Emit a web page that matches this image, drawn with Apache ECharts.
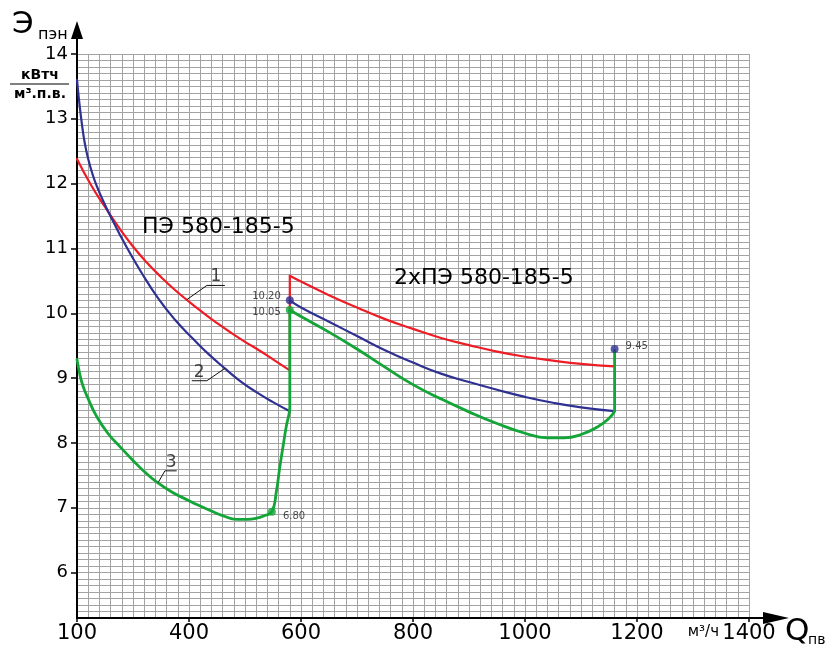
<!DOCTYPE html>
<html><head><meta charset="utf-8">
<script src="https://cdn.jsdelivr.net/npm/echarts@6/dist/echarts.min.js"></script>
<style>html,body{margin:0;padding:0;background:#fff}#c{width:834px;height:650px}</style>
</head><body><div id="c"></div>
<script>
// ---- data (x in axis units, y in кВтч/м³) ----
const xTickValues = [200, 400, 600, 800, 1000, 1200, 1400];
const xTickLabels = ['100', '400', '600', '800', '1000', '1200', '1400'];
const yTickValues = [6, 7, 8, 9, 10, 11, 12, 13, 14];

// curve 1 (red)
const red1 = [[200,12.38],[225,11.98],[250,11.64],[275,11.32],[300,11.03],[325,10.78],[350,10.56],[375,10.36],[400,10.18],[425,10.01],[450,9.85],[475,9.70],[500,9.56],[525,9.43],[550,9.29],[580,9.12]];
const red2 = [[580,10.58],[600,10.49],[650,10.28],[700,10.09],[750,9.91],[800,9.76],[850,9.62],[900,9.51],[950,9.41],[1000,9.33],[1050,9.27],[1100,9.22],[1160,9.18]];
// curve 2 (blue)
const blue1 = [[200,13.60],[205,13.18],[210,12.84],[214,12.62],[220,12.38],[228,12.14],[235,11.97],[248,11.71],[262,11.46],[275,11.24],[290,11.00],[315,10.63],[345,10.23],[375,9.90],[408,9.60],[435,9.37],[464,9.15],[492,8.95],[521,8.78],[550,8.63],[580,8.49]];
const blue2 = [[580,10.20],[600,10.09],[650,9.87],[700,9.65],[750,9.43],[800,9.24],[850,9.07],[900,8.94],[950,8.82],[1000,8.71],[1050,8.62],[1100,8.55],[1160,8.49]];
// curve 3 (green)
const green1 = [[200,9.29],[205,9.06],[211,8.87],[220,8.68],[235,8.41],[255,8.15],[277,7.94],[300,7.73],[320,7.56],[342,7.40],[370,7.24],[400,7.11],[414,7.05],[440,6.95],[460,6.88],[485,6.82],[505,6.82],[521,6.84],[535,6.88],[548,6.94],[556,7.25],[562,7.62],[568,7.95],[574,8.27],[578,8.42],[580,8.52]];
const green2 = [[580,10.05],[600,9.95],[650,9.71],[700,9.45],[750,9.17],[800,8.90],[850,8.68],[900,8.48],[950,8.30],[1000,8.15],[1040,8.08],[1070,8.08],[1100,8.13],[1130,8.25],[1150,8.38],[1160,8.49]];

// marked points
const bluePoints = [[580,10.20,'10.20','left'],[1160,9.45,'9.45','right']];
const greenPoints = [[580,10.05,'10.05','left'],[548,6.94,'6.80','right']];

// curve numbers with leader lines
const leader1 = [[396,10.21],[432,10.43],[464,10.43]];
const leader2 = [[464,9.15],[432,8.96],[405,8.96]];
const leader3 = [[345,7.39],[357,7.57],[378,7.57]];
const curveNumbers = [[448,10.43,'1'],[418,8.96,'2'],[368,7.57,'3']];

// ---- chart ----
const FONT = 'DejaVu Sans';
const RED = '#ee1c25', BLUE = '#2e3192', GREEN = '#13a538';
const GRIDC = '#a3a3a3';
const chart = echarts.init(document.getElementById('c'));

function curve(data, color, width, z) {
  return { type: 'line', data, smooth: 0.5, showSymbol: false, symbol: 'none',
    lineStyle: { color, width, join: 'round', cap: 'round' }, z, silent: true, animation: false };
}
function straight(data, color, width, z) {
  return { type: 'line', data, smooth: false, showSymbol: false, symbol: 'none',
    lineStyle: { color, width }, z, silent: true, animation: false };
}

const option = {
  backgroundColor: '#fff',
  animation: false,
  grid: { left: 77, right: 85, top: 54, bottom: 32, containLabel: false },
  xAxis: {
    type: 'value', min: 200, max: 1400, interval: 200,
    axisLine: { show: true, onZero: false, lineStyle: { color: '#000', width: 2 } },
    axisTick: { show: true, length: 4, lineStyle: { color: '#000', width: 1.5 } },
    axisLabel: { show: true, margin: 5, fontFamily: FONT, fontSize: 21, color: '#000',
      formatter: v => { const i = xTickValues.indexOf(v); return i >= 0 ? xTickLabels[i] : ''; } },
    splitLine: { show: true, lineStyle: { color: GRIDC, width: 1 } },
    minorTick: { show: false, splitNumber: 10 },
    minorSplitLine: { show: true, lineStyle: { color: GRIDC, width: 1 } }
  },
  yAxis: [
    { type: 'value', min: 5.3, max: 14, interval: 0.1,
      axisLine: { show: true, onZero: false, lineStyle: { color: '#000', width: 2 } },
      axisTick: { show: false }, axisLabel: { show: false },
      splitLine: { show: true, lineStyle: { color: GRIDC, width: 1 } } },
    { type: 'value', min: 5.3, max: 14, position: 'left', offset: 0,
      axisLine: { show: false },
      axisTick: { show: true, customValues: yTickValues, length: 6, inside: false, lineStyle: { color: '#000', width: 1.5 } },
      axisLabel: { show: true, customValues: yTickValues, margin: 9, fontFamily: FONT, fontSize: 18, color: '#000',
        formatter: v => String(Math.round(v)) },
      splitLine: { show: false } }
  ],
  series: [
    curve(red1, RED, 2.2, 3), curve(red2, RED, 2.2, 3),
    straight([red1[red1.length-1], red2[0]], RED, 2.2, 3),
    curve(blue1, BLUE, 2.2, 4), curve(blue2, BLUE, 2.2, 4),
    curve(green1, GREEN, 2.8, 5), curve(green2, GREEN, 2.8, 5),
    straight([green1[green1.length-1], green2[0]], GREEN, 2.8, 5),
    straight([green2[green2.length-1], [bluePoints[1][0], bluePoints[1][1]]], GREEN, 2.8, 5),
    straight(leader1, '#111', 1, 6), straight(leader2, '#111', 1, 6), straight(leader3, '#111', 1, 6),
    { type: 'scatter', data: curveNumbers, symbolSize: 0, z: 7, animation: false,
      label: { show: true, position: 'top', distance: 0, fontFamily: FONT, fontSize: 17, color: '#111', formatter: p => p.value[2] } },
    { type: 'scatter', symbolSize: 8, itemStyle: { color: BLUE }, z: 10, animation: false,
      data: bluePoints.map(p => ({ value: [p[0], p[1], p[2]],
        label: { show: true, position: p[3], distance: 5, offset: p[3] === 'left' ? [0, -4] : [2, -3],
          fontFamily: FONT, fontSize: 10, color: '#222', formatter: q => q.value[2] } })) },
    { type: 'scatter', symbolSize: 8, itemStyle: { color: GREEN }, z: 10, animation: false,
      data: greenPoints.map(p => ({ value: [p[0], p[1], p[2]],
        label: { show: true, position: p[3], distance: 5, offset: p[3] === 'left' ? [0, 2] : [2, 5],
          fontFamily: FONT, fontSize: 10, color: '#222', formatter: q => q.value[2] } })) }
  ]
};
chart.setOption(option);

// axis arrows, titles and annotations placed from the axes
const origin = chart.convertToPixel({ gridIndex: 0 }, [200, 5.3]);
const top14 = chart.convertToPixel({ gridIndex: 0 }, [200, 14]);
const right = chart.convertToPixel({ gridIndex: 0 }, [1400, 5.3]);
const ox = origin[0], oy = origin[1], ty = top14[1], rx = right[0];
const txt = (x, y, text, size, extra) => Object.assign({ type: 'text', x, y, z: 20,
  style: Object.assign({ text, fontFamily: FONT, fontSize: size, fill: '#000', textVerticalAlign: 'middle' }, extra || {}) });

chart.setOption({
  graphic: [
    { type: 'line', z: 20, shape: { x1: ox, y1: ty, x2: ox, y2: ty - 18 }, style: { stroke: '#000', lineWidth: 2 } },
    { type: 'polygon', z: 20, shape: { points: [[ox - 6, ty - 15], [ox + 6, ty - 15], [ox, ty - 33]] }, style: { fill: '#000' } },
    { type: 'line', z: 20, shape: { x1: rx, y1: oy, x2: rx + 20, y2: oy }, style: { stroke: '#000', lineWidth: 2 } },
    { type: 'polygon', z: 20, shape: { points: [[rx + 14, oy - 6], [rx + 14, oy + 6], [rx + 40, oy]] }, style: { fill: '#000' } },
    txt(12, 25, 'Э', 31),
    txt(38, 35, 'пэн', 16),
    txt(40, 75, 'кВтч', 14, { textAlign: 'center', fontWeight: 'bold' }),
    { type: 'line', z: 20, shape: { x1: 10, y1: 84, x2: 69, y2: 84 }, style: { stroke: '#000', lineWidth: 1.2 } },
    txt(40, 94, 'м³.п.в.', 14, { textAlign: 'center', fontWeight: 'bold' }),
    txt(rx + 36, oy + 14, 'Q', 31),
    txt(rx + 59, oy + 22, 'пв', 14),
    txt(rx - 30, oy + 14, 'м³/ч', 15, { textAlign: 'right' }),
    txt(142, 227, 'ПЭ 580-185-5', 22),
    txt(394, 278, '2хПЭ 580-185-5', 22)
  ]
});
</script>
</body></html>
